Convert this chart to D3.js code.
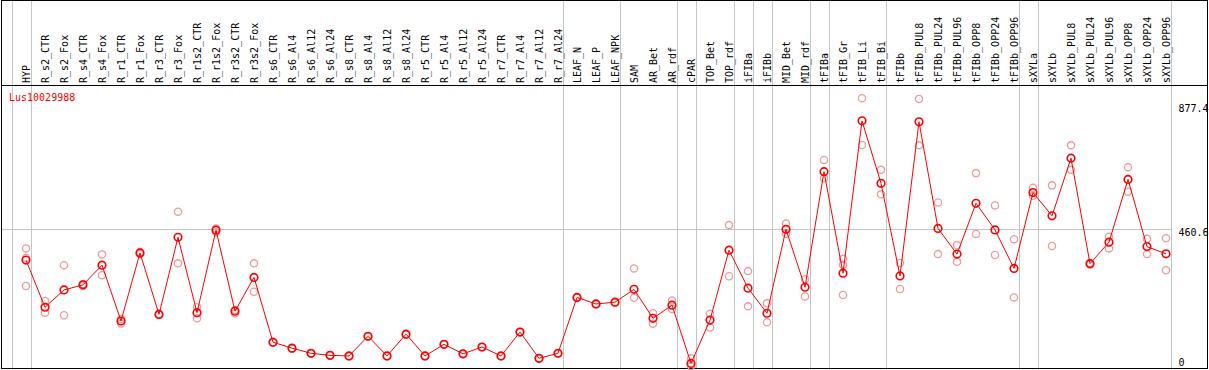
<!DOCTYPE html>
<html>
<head>
<meta charset="utf-8">
<script src="https://cdn.jsdelivr.net/npm/d3@7"></script>
<style>
  body { margin: 0; background: #fff; }
  text { font-family: "DejaVu Sans Mono", monospace; font-size: 10px; }
</style>
</head>
<body>
<div id="chart"></div>
<script>
// gene id and sample names
const geneId = "Lus10029988";

const samples = ["HYP", "R_s2_CTR", "R_s2_Fox", "R_s4_CTR", "R_s4_Fox", "R_r1_CTR", "R_r1_Fox",
  "R_r3_CTR", "R_r3_Fox", "R_r1s2_CTR", "R_r1s2_Fox", "R_r3s2_CTR", "R_r3s2_Fox",
  "R_s6_CTR", "R_s6_Al4", "R_s6_Al12", "R_s6_Al24", "R_s8_CTR", "R_s8_Al4", "R_s8_Al12", "R_s8_Al24",
  "R_r5_CTR", "R_r5_Al4", "R_r5_Al12", "R_r5_Al24", "R_r7_CTR", "R_r7_Al4", "R_r7_Al12", "R_r7_Al24",
  "LEAF_N", "LEAF_P", "LEAF_NPK", "SAM", "AR_Bet", "AR_rdf", "cPAR", "TOP_Bet", "TOP_rdf",
  "iFIBa", "iFIBb", "MID_Bet", "MID_rdf", "tFIBa", "tFIB_Gr", "tFIB_Li", "tFIB_Bi",
  "tFIBb", "tFIBb_PUL8", "tFIBb_PUL24", "tFIBb_PUL96", "tFIBb_OPP8", "tFIBb_OPP24", "tFIBb_OPP96",
  "sXYLa", "sXYLb", "sXYLb_PUL8", "sXYLb_PUL24", "sXYLb_PUL96", "sXYLb_OPP8", "sXYLb_OPP24", "sXYLb_OPP96"];

// how many samples sit between the grey separators
const groupSizes = [1, 28, 3, 3, 1, 2, 1, 1, 2, 1, 3, 7, 1, 7];

// mean expression per sample
const means = [355, 197, 255, 272, 338, 151, 379, 173, 431, 179, 455, 184, 297,
  80, 60, 43, 36, 34, 100, 34, 107, 34, 73, 41, 64, 34, 114, 26, 43,
  230, 208, 214, 257, 160, 204, 9, 154, 388, 261, 177, 458, 264,
  651, 311, 821, 612, 302, 818, 461, 375, 545, 456, 327,
  581, 503, 696, 343, 415, 625, 400, 376];

// replicate values per sample
const replicates = [
  [394, 268, 362], [218, 179], [338, 170], [275, 268], [374, 304], [143, 158], [382, 375],
  [175, 172], [517, 344], [197, 160], [461, 448], [177, 188], [344, 249],
  [80, 79], [60, 59], [43, 42], [36, 35], [34, 33], [100, 99], [34, 33], [107, 106],
  [34, 33], [73, 72], [41, 40], [64, 63], [34, 33], [114, 113], [26, 25], [43, 42],
  [230, 229], [208, 207], [214, 213], [327, 229], [177, 142], [220, 191], [26, 0],
  [175, 129], [472, 301], [318, 200], [210, 147], [477, 443], [291, 233],
  [690, 629], [359, 339, 238], [897, 740], [657, 575], [345, 258], [894, 739], [548, 375],
  [405, 349], [646, 442], [538, 372], [425, 230],
  [597, 570], [605, 402], [739, 657], [345, 340], [433, 394], [666, 584], [426, 375], [428, 321]];

// right axis ticks
const tickValues = [0, 460.6, 877.4];
const gridValues = [460.6];

const width = 1209, height = 370;
const headerBottom = 85.5;
const plotRight = 1170.7;

const svg = d3.select("#chart").append("svg")
  .attr("width", width)
  .attr("height", height);

const x = d3.scaleBand()
  .domain(samples)
  .range([11.7, plotRight])
  .paddingInner(0).paddingOuter(0);

const px = d => x(d) + 14.3;

const y = d3.scaleLinear()
  .domain([0, 877.4])
  .range([366.1, 104]);

// grey separators between sample groups
let ends = [x(samples[0])];
let acc = 0;
groupSizes.forEach(n => { acc += n; ends.push(x(samples[acc - 1]) + x.bandwidth()); });

svg.append("g")
  .selectAll("line")
  .data(ends)
  .enter().append("line")
    .attr("x1", d => Math.round(d) + 0.5)
    .attr("x2", d => Math.round(d) + 0.5)
    .attr("y1", 0)
    .attr("y2", height)
    .attr("stroke", "#c4c4c4")
    .attr("stroke-width", 1)
    .attr("shape-rendering", "crispEdges");

svg.append("g")
  .selectAll("line")
  .data(gridValues)
  .enter().append("line")
    .attr("x1", 2)
    .attr("x2", plotRight)
    .attr("y1", d => Math.round(y(d)) + 0.5)
    .attr("y2", d => Math.round(y(d)) + 0.5)
    .attr("stroke", "#c4c4c4")
    .attr("shape-rendering", "crispEdges");

// frame + header rule
svg.append("rect")
  .attr("x", 1.5).attr("y", 0.5)
  .attr("width", 1206).attr("height", 368)
  .attr("fill", "none").attr("stroke", "black")
  .attr("shape-rendering", "crispEdges");

svg.append("line")
  .attr("x1", 1).attr("x2", 1208)
  .attr("y1", headerBottom).attr("y2", headerBottom)
  .attr("stroke", "black")
  .attr("shape-rendering", "crispEdges");

// rotated sample labels
svg.append("g")
  .selectAll("text")
  .data(samples)
  .enter().append("text")
    .attr("transform", d => `translate(${px(d)},83) rotate(-90)`)
    .attr("dy", "0.36em")
    .attr("fill", "black")
    .text(d => d);

svg.append("text")
  .attr("x", 9)
  .attr("y", 101)
  .attr("fill", "red")
  .text(geneId);

// right value labels
svg.append("g")
  .selectAll("text")
  .data(tickValues)
  .enter().append("text")
    .attr("x", 1178.5)
    .attr("y", d => Math.min(y(d) + 7.5, y(0)))
    .attr("fill", "black")
    .text(d => d);

// replicate circles
const reps = samples.flatMap((s, i) => replicates[i].map(v => ({s, v})));
svg.append("g")
  .selectAll("circle")
  .data(reps)
  .enter().append("circle")
    .attr("cx", d => px(d.s))
    .attr("cy", d => y(d.v))
    .attr("r", 3.6)
    .attr("fill", "none")
    .attr("stroke", "#f09a9a")
    .attr("stroke-width", 1.3);

// mean line
const line = d3.line()
  .x((d, i) => px(samples[i]))
  .y(d => y(d));

svg.append("path")
  .datum(means)
  .attr("d", line)
  .attr("fill", "none")
  .attr("stroke", "red")
  .attr("stroke-width", 1);

svg.append("g")
  .selectAll("circle")
  .data(means)
  .enter().append("circle")
    .attr("cx", (d, i) => px(samples[i]))
    .attr("cy", d => y(d))
    .attr("r", 3.8)
    .attr("fill", "none")
    .attr("stroke", "red")
    .attr("stroke-width", 1.6);
</script>
</body>
</html>
